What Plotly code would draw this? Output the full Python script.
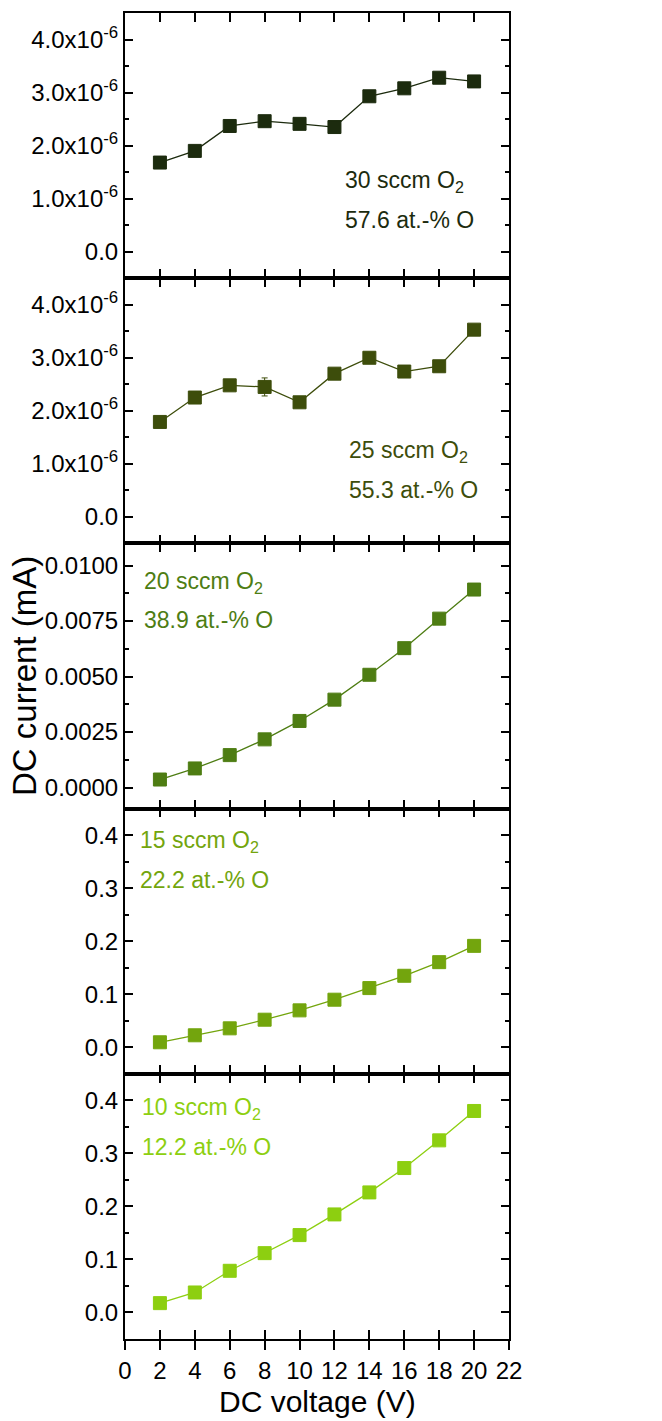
import numpy as np
import plotly.graph_objects as go
from plotly.subplots import make_subplots

# ---------------- data ----------------
voltage = [2, 4, 6, 8, 10, 12, 14, 16, 18, 20]

current_30 = [1.68e-6, 1.90e-6, 2.37e-6, 2.46e-6, 2.41e-6, 2.35e-6, 2.93e-6, 3.08e-6, 3.28e-6, 3.21e-6]
err_30 = [0, 0.05e-6, 0, 0, 0, 0, 0.07e-6, 0, 0, 0]
current_25 = [1.79e-6, 2.25e-6, 2.48e-6, 2.45e-6, 2.16e-6, 2.70e-6, 3.00e-6, 2.74e-6, 2.84e-6, 3.53e-6]
err_25 = [0, 0, 0, 0.17e-6, 0, 0, 0.05e-6, 0, 0, 0]
current_20 = [0.00036, 0.00086, 0.00146, 0.00217, 0.00300, 0.00396, 0.00508, 0.00628, 0.00761, 0.00892]
current_15 = [0.0094, 0.0226, 0.0357, 0.0520, 0.0696, 0.0897, 0.1116, 0.1348, 0.1605, 0.1912]
current_10 = [0.0176, 0.0377, 0.0786, 0.1119, 0.1459, 0.1849, 0.2264, 0.2723, 0.3245, 0.3799]

series = [current_30, current_25, current_20, current_15, current_10]
errors = [err_30, err_25, None, None, None]
flow_labels = ["30 sccm O<sub>2</sub>", "25 sccm O<sub>2</sub>", "20 sccm O<sub>2</sub>",
               "15 sccm O<sub>2</sub>", "10 sccm O<sub>2</sub>"]
comp_labels = ["57.6 at.-% O", "55.3 at.-% O", "38.9 at.-% O", "22.2 at.-% O", "12.2 at.-% O"]
colors = ["#1c2b0e", "#3d4d0b", "#4e7d13", "#73a50d", "#8dcf10"]

x_ticks = list(range(0, 23, 2))
ytick_small = [0, 1e-6, 2e-6, 3e-6, 4e-6]
ytext_small = ["0.0", "1.0x10<sup>-6</sup>", "2.0x10<sup>-6</sup>", "3.0x10<sup>-6</sup>", "4.0x10<sup>-6</sup>"]
ytick_mid = [0, 0.0025, 0.005, 0.0075, 0.01]
ytext_mid = ["0.0000", "0.0025", "0.0050", "0.0075", "0.0100"]
ytick_big = [0, 0.1, 0.2, 0.3, 0.4]
ytext_big = ["0.0", "0.1", "0.2", "0.3", "0.4"]

# ---------------- figure ----------------
FONT = "Liberation Sans, Arial, sans-serif"
fig = make_subplots(rows=5, cols=1, shared_xaxes=False, vertical_spacing=0)

for i, (ys, err, col) in enumerate(zip(series, errors, colors)):
    tr = go.Scatter(
        x=voltage, y=ys, mode="lines+markers",
        line=dict(color=col, width=1.3),
        marker=dict(symbol="square", size=13, color=col, line=dict(color=col, width=1)),
        showlegend=False,
    )
    if err is not None:
        tr.error_y = dict(type="data", array=err, visible=True, thickness=1, width=3, color=col)
    fig.add_trace(tr, row=i + 1, col=1)

# empty trace to host the inner-tick overlay axis of the bottom panel
fig.add_trace(go.Scatter(x=[], y=[], xaxis="x6", yaxis="y5", showlegend=False, hoverinfo="skip"))

yranges = [[-0.5e-6, 4.5e-6], [-0.5e-6, 4.5e-6], [-0.00095, 0.011], [-0.05, 0.45], [-0.05, 0.45]]
ytv = [ytick_small, ytick_small, ytick_mid, ytick_big, ytick_big]
ytt = [ytext_small, ytext_small, ytext_mid, ytext_big, ytext_big]
ymin_step = [0.5e-6, 0.5e-6, 0.00125, 0.05, 0.05]

TICKFONT = dict(family=FONT, size=24, color="black")
y_common = dict(showline=True, linecolor="black", linewidth=2, showgrid=False, zeroline=False,
                tickcolor="black", tickwidth=2, tickfont=TICKFONT)
x_common = dict(showline=True, linecolor="black", linewidth=1.5, showgrid=False, zeroline=False,
                tickcolor="black", tickwidth=2)

for i in range(5):
    r = i + 1
    lo, hi = yranges[i]
    minor_vals = list(np.arange(0, hi, ymin_step[i]))
    fig.update_yaxes(range=yranges[i], tickmode="array", tickvals=ytv[i], ticktext=ytt[i],
                     ticks="inside", ticklen=8, mirror="ticks",
                     minor=dict(ticks="inside", ticklen=4, tickwidth=2, tickcolor="black",
                                tickmode="array", tickvals=minor_vals, showgrid=False),
                     row=r, col=1, **y_common)
    fig.update_xaxes(range=[0, 22], tickmode="array", tickvals=x_ticks,
                     ticks="inside", ticklen=9, mirror="ticks", tickfont=TICKFONT,
                     showticklabels=False, row=r, col=1, **x_common)

# bottom panel: outward ticks with labels, plus overlay axis with inward ticks
fig.update_xaxes(ticks="outside", ticklen=9, mirror=True, showticklabels=True, row=5, col=1)
fig.update_layout(xaxis6=dict(overlaying="x5", anchor="y5", side="bottom", range=[0, 22],
                              tickmode="array", tickvals=x_ticks, ticks="inside", ticklen=9,
                              mirror="ticks", showticklabels=False, **x_common))

# series annotations (position in each panel's domain)
ann_pos = [(0.568, 0.363, 0.219), (0.578, 0.345, 0.201), (0.044, 0.851, 0.711),
           (0.034, 0.877, 0.731), (0.039, 0.871, 0.724)]
annotations = []
for i in range(5):
    xa = "x domain" if i == 0 else f"x{i+1} domain"
    ya = "y domain" if i == 0 else f"y{i+1} domain"
    px, py1, py2 = ann_pos[i]
    annotations.append(dict(text=flow_labels[i], x=px, y=py1, xref=xa, yref=ya, xanchor="left",
                            yanchor="middle", showarrow=False,
                            font=dict(family=FONT, size=23, color=colors[i])))
    annotations.append(dict(text=comp_labels[i], x=px, y=py2, xref=xa, yref=ya, xanchor="left",
                            yanchor="middle", showarrow=False,
                            font=dict(family=FONT, size=23, color=colors[i])))

# axis titles
annotations.append(dict(text="DC current (mA)", x=(24 - 125) / 384, y=0.5, xref="paper", yref="paper",
                        xanchor="center", yanchor="middle", textangle=-90, showarrow=False,
                        font=dict(family=FONT, size=33, color="black")))
annotations.append(dict(text="DC voltage (V)", x=0.5, y=(1339 - 1401) / 1326, xref="paper", yref="paper",
                        xanchor="center", yanchor="middle", showarrow=False,
                        font=dict(family=FONT, size=30, color="black")))

fig.update_layout(
    width=662, height=1421,
    margin=dict(l=125, r=153, t=13, b=82),
    paper_bgcolor="white", plot_bgcolor="white",
    annotations=annotations,
    showlegend=False,
)

fig.write_html("out.html")
